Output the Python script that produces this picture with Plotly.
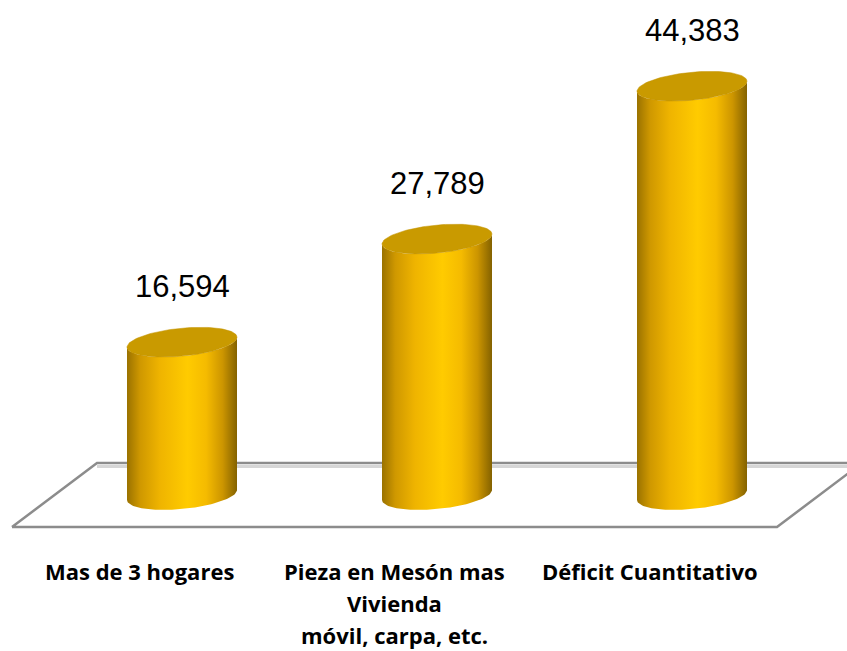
import numpy as np
import plotly.graph_objects as go

# ---- data ----
categories = ["Mas de 3 hogares", "Pieza en Mesón mas<br>Vivienda<br>móvil, carpa, etc.", "Déficit Cuantitativo"]
values = [16594, 27789, 44383]
value_labels = ["16,594", "27,789", "44,383"]

# ---- styling / geometry ----
W, H = 847, 651
PX_PER_X = 255.0           # pixels per category slot
PX_PER_Y = 9.21 / 1000.0   # pixels per value unit
BASE_PX = 495.0            # pixel row of value 0
FRONT_LEFT_PX = 12.0

x_min = -0.5 - FRONT_LEFT_PX / PX_PER_X
x_max = x_min + W / PX_PER_X
y_max = BASE_PX / PX_PER_Y
y_min = -(H - BASE_PX) / PX_PER_Y

depth_dx = 85.0 / PX_PER_X          # floor depth, x
depth_dy = 32.0 / PX_PER_Y          # half floor depth, y
radius = 55.0 / PX_PER_X
ell_b = 14.0 / PX_PER_Y
ell_tilt = 5.0 / PX_PER_Y

gold_scale = [[0, "#9a7200"], [0.12, "#cf9800"], [0.3, "#efb400"], [0.55, "#ffcb00"],
              [0.72, "#f5bb00"], [0.87, "#cc9500"], [1, "#846200"]]
top_color = "#c99a00"
floor_color = "#8c8c8c"

fig = go.Figure()

n = len(categories)
# floor parallelogram
fx = [-0.5, n - 0.5, n - 0.5 + depth_dx, -0.5 + depth_dx, -0.5]
fy = [-depth_dy, -depth_dy, depth_dy, depth_dy, -depth_dy]
fig.add_trace(go.Scatter(x=[-0.5 + depth_dx, x_max + 1], y=[depth_dy - 3.5 / PX_PER_Y] * 2,
                         mode="lines", line=dict(color="#d6d6d6", width=3), hoverinfo="skip"))
fig.add_trace(go.Scatter(x=fx, y=fy, mode="lines", line=dict(color=floor_color, width=2.5),
                         hoverinfo="skip"))

t_front = np.linspace(np.pi, 2 * np.pi, 60)
t_all = np.linspace(0, 2 * np.pi, 121)

for i, v in enumerate(values):
    cx = i + depth_dx / 2
    bx = cx + radius * np.cos(t_front)
    by = 0 + ell_b * np.sin(t_front) + ell_tilt * np.cos(t_front)
    tx = (cx + radius * np.cos(t_front))[::-1]
    ty = (v + ell_b * np.sin(t_front) + ell_tilt * np.cos(t_front))[::-1]
    body_x = np.concatenate([bx, tx])
    body_y = np.concatenate([by, ty])
    fig.add_trace(go.Scatter(x=body_x, y=body_y, mode="lines", fill="toself",
                             line=dict(width=0, color="rgba(0,0,0,0)"),
                             fillgradient=dict(type="horizontal", colorscale=gold_scale),
                             hoverinfo="skip"))
    ex = cx + radius * np.cos(t_all)
    ey = v + ell_b * np.sin(t_all) + ell_tilt * np.cos(t_all)
    fig.add_trace(go.Scatter(x=ex, y=ey, mode="lines", fill="toself", fillcolor=top_color,
                             line=dict(width=0.5, color="#c29200"), hoverinfo="skip"))
    fig.add_annotation(x=cx, y=v, text=value_labels[i], showarrow=False, yshift=56,
                       font=dict(family="Liberation Sans, Arial", size=31, color="black"))

# category labels, centred on the front edge of each slot
first_line_y = -(571 - BASE_PX) / PX_PER_Y
for i, cat in enumerate(categories):
    for j, line in enumerate(cat.split("<br>")):
        fig.add_annotation(x=i, y=first_line_y, text="<b>" + line + "</b>", showarrow=False,
                           yshift=-32 * j, yanchor="middle",
                           font=dict(family="Open Sans", size=22, color="black"))

fig.update_layout(width=W, height=H, margin=dict(l=0, r=0, t=0, b=0),
                  paper_bgcolor="white", plot_bgcolor="white", showlegend=False,
                  xaxis=dict(range=[x_min, x_max], visible=False, fixedrange=True),
                  yaxis=dict(range=[y_min, y_max], visible=False, fixedrange=True))

fig.write_html("out.html", config={"displayModeBar": False},
               post_script="document.body.style.margin='0';document.body.style.overflow='hidden';")
